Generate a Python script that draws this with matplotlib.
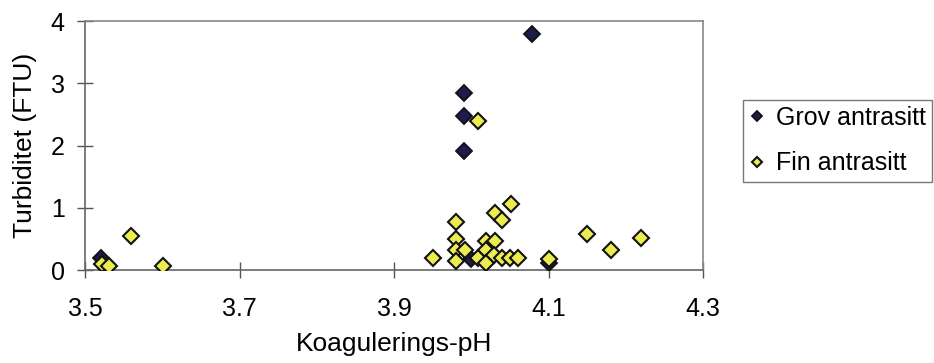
import matplotlib
matplotlib.use("Agg")
import matplotlib.pyplot as plt

plt.rcParams.update({
    "font.family": ["Liberation Sans", "DejaVu Sans"],
    "font.size": 18,
})

# data
grov_ph = [3.521, 3.990, 3.990, 3.990, 4.079, 4.000, 4.100]
grov_ftu = [0.20, 2.85, 2.47, 1.91, 3.80, 0.17, 0.11]

fin_ph = [3.522, 3.531, 3.560, 3.601,
          3.950, 3.980, 3.980, 3.980, 3.980, 3.992,
          4.009, 4.009, 4.019, 4.019, 4.019, 4.030, 4.029, 4.030, 4.040,
          4.051, 4.040, 4.050, 4.060, 4.100, 4.150, 4.180, 4.220]
fin_ftu = [0.10, 0.06, 0.54, 0.06,
           0.20, 0.78, 0.50, 0.33, 0.15, 0.33,
           2.40, 0.20, 0.47, 0.33, 0.12, 0.47, 0.24, 0.92, 0.81,
           1.06, 0.20, 0.20, 0.20, 0.17, 0.58, 0.32, 0.52]

x_ticks = [3.5, 3.7, 3.9, 4.1, 4.3]
y_ticks = [0, 1, 2, 3, 4]

fig = plt.figure(figsize=(9.34, 3.63), dpi=100, facecolor="white")
ax = fig.add_axes([0.091, 0.256, 0.662, 0.686])

ax.plot(grov_ph, grov_ftu, linestyle="none", marker="D", markersize=8,
        markerfacecolor="#1c1c4e", markeredgecolor="#111111",
        markeredgewidth=1.3, label="Grov antrasitt", zorder=3)
ax.plot(fin_ph, fin_ftu, linestyle="none", marker="D", markersize=8,
        markerfacecolor="#ecec50", markeredgecolor="#111111",
        markeredgewidth=1.5, label="Fin antrasitt", zorder=4)

ax.set_xlim(3.5, 4.3)
ax.set_ylim(0, 4)
ax.set_xticks(x_ticks)
ax.set_xticklabels([f"{v:.1f}" for v in x_ticks])
ax.set_yticks(y_ticks)

ax.tick_params(axis="both", direction="inout", length=11, width=1,
               color="#555555", labelsize=18)
ax.tick_params(axis="x", pad=14)
ax.tick_params(axis="y", pad=9)

for side in ["top", "right"]:
    ax.spines[side].set_color("#888888")
    ax.spines[side].set_linewidth(1.2)
for side in ["left", "bottom"]:
    ax.spines[side].set_color("#666666")
    ax.spines[side].set_linewidth(1.2)

ax.set_xlabel("Koagulerings-pH", fontsize=19, labelpad=8)
ax.set_ylabel("Turbiditet (FTU)", fontsize=19, labelpad=10)

leg = ax.legend(loc="upper left", bbox_to_anchor=(1.065, 0.683),
                frameon=True, fancybox=False, markerscale=0.6,
                handlelength=0.6, handletextpad=0.45, borderpad=0.25,
                labelspacing=0.85, fontsize=18, borderaxespad=0)
leg.get_frame().set_edgecolor("#555555")
leg.get_frame().set_linewidth(1.0)

fig.savefig("out.png", dpi=100, facecolor="white")
